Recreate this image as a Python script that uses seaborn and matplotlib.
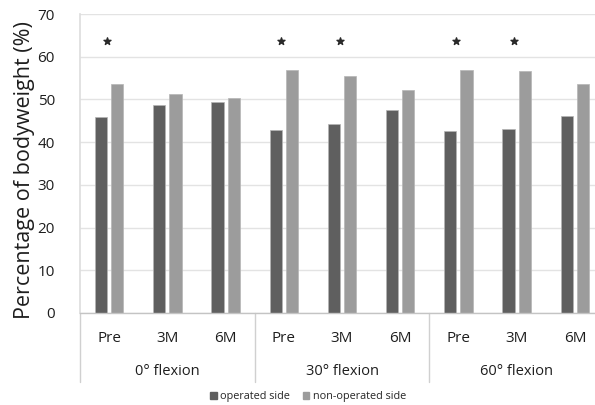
import matplotlib
matplotlib.use("Agg")
import matplotlib.pyplot as plt
import matplotlib.patches as mpatches
import seaborn as sns
import pandas as pd
import numpy as np

groups = ["0° flexion", "30° flexion", "60° flexion"]
times = ["Pre", "3M", "6M"]
operated = [46.0, 48.6, 49.4, 42.9, 44.2, 47.5, 42.6, 43.0, 46.1]
non_operated = [53.7, 51.2, 50.3, 56.9, 55.5, 52.3, 57.0, 56.6, 53.5]
significant = [True, False, False, True, True, False, True, True, False]
star_level = 63.7
sides = ["operated side", "non-operated side"]
colors = ["#5f5f5f", "#9c9c9c"]

cats = [f"{g} {t}" for g in groups for t in times]
df = pd.DataFrame({
    "cat": cats * 2,
    "side": [sides[0]] * 9 + [sides[1]] * 9,
    "value": operated + non_operated,
})

sns.set_theme(style="white")
plt.rcParams["font.family"] = ["Open Sans", "DejaVu Sans"]

fig = plt.figure(figsize=(5.95, 4.05), dpi=100)
ax = fig.add_axes([80 / 595, 92 / 405, 524 / 595, 299 / 405])

sns.barplot(data=df, x="cat", y="value", hue="side", order=cats,
            hue_order=sides, palette=colors, width=0.56, gap=0.25,
            edgecolor="#b5b5b5", linewidth=0.5, legend=False, ax=ax)

ax.set_ylim(0, 70)
ax.set_xlim(-0.5, 8.5)
ax.set_yticks(range(0, 71, 10))
ax.yaxis.grid(True, color="#e3e3e3", linewidth=1.0)
ax.set_axisbelow(True)
ax.tick_params(axis="y", labelsize=11, length=0, pad=18, colors="#1e1e1e")
ax.tick_params(axis="x", length=0, labelsize=11, pad=13, colors="#1e1e1e")
ax.set_xticks(range(9))
ax.set_xticklabels(times * 3)
ax.set_xlabel("")
ax.set_ylabel("Percentage of bodyweight (%)", fontsize=15.5, color="#1e1e1e")
ax.yaxis.set_label_coords(-0.086, 0.478)

for s in ["top", "right"]:
    ax.spines[s].set_visible(False)
ax.spines["left"].set_color("#dedede")
ax.spines["bottom"].set_color("#c4c4c4")
ax.spines["bottom"].set_linewidth(1.0)

# significance stars
xs = [i - 0.04 for i, s in enumerate(significant) if s]
ax.scatter(xs, [star_level] * len(xs), marker="*", s=28, color="#2a2a2a", zorder=5)

# group labels and separators
trans = ax.get_xaxis_transform()
for gi, g in enumerate(groups):
    ax.text(gi * 3 + 1, -0.197, g, transform=trans, ha="center", va="center",
            fontsize=10.5, color="#1e1e1e")
for xb in [-0.5, 2.5, 5.5, 8.5]:
    ax.plot([xb, xb], [0, -0.231], transform=trans, color="#d0d0d0",
            linewidth=1.0, clip_on=False)

handles = [mpatches.Patch(color=c, label=l) for c, l in zip(colors, sides)]
fig.legend(handles=handles, loc="center", bbox_to_anchor=(308 / 595, 1 - 397 / 405),
           ncol=2, frameon=False, fontsize=7.8, handlelength=0.6, handleheight=0.6,
           handletextpad=0.3, columnspacing=1.2)

fig.savefig("out.png", dpi=100)
